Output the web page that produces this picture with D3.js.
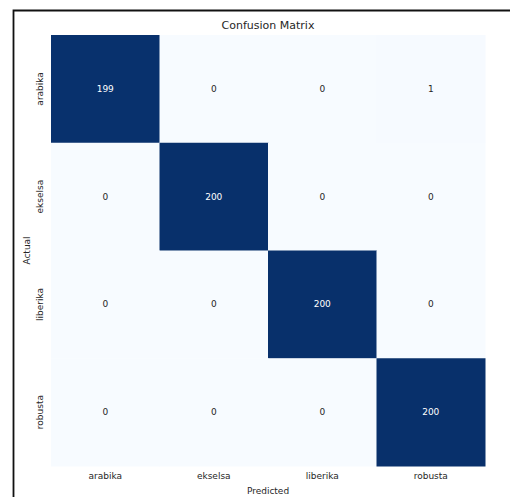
<!DOCTYPE html>
<html><head><meta charset="utf-8">
<script src="https://cdn.jsdelivr.net/npm/d3@7"></script>
<style>body{margin:0;background:#fff;} svg{display:block;font-family:"DejaVu Sans",sans-serif;}</style>
</head><body>
<svg id="c" width="510" height="497"></svg>
<script>
const classes = ["arabika","ekselsa","liberika","robusta"];
const matrix = [
  [199, 0, 0, 1],
  [0, 200, 0, 0],
  [0, 0, 200, 0],
  [0, 0, 0, 200]
];
const title = "Confusion Matrix";
const xLabel = "Predicted";
const yLabel = "Actual";

const svg = d3.select("#c");
// notebook frame
svg.append("path").attr("d","M13.5,510 L13.5,10.5 L512,10.5")
  .attr("fill","none").attr("stroke","#111").attr("stroke-width",1.8);

const L=51, T=35, R=485, B=466;
const x = d3.scaleBand().domain(classes).range([L,R]);
const y = d3.scaleBand().domain(classes).range([T,B]);
const color = d3.scaleSequential(d3.interpolateBlues).domain([0,200]);

const cells = [];
matrix.forEach((row,i)=>row.forEach((v,j)=>cells.push({a:classes[i],p:classes[j],v})));

svg.append("g").selectAll("rect").data(cells).join("rect")
  .attr("x",d=>x(d.p)).attr("y",d=>y(d.a))
  .attr("width",x.bandwidth()+0.5).attr("height",y.bandwidth()+0.5)
  .attr("fill",d=>color(d.v));

svg.append("g").selectAll("text").data(cells).join("text")
  .attr("x",d=>x(d.p)+x.bandwidth()/2).attr("y",d=>y(d.a)+y.bandwidth()/2)
  .attr("text-anchor","middle").attr("dominant-baseline","central")
  .attr("font-size",9).attr("fill",d=>d.v>100?"#ffffff":"#262626")
  .text(d=>d.v);

// axes
const xa = svg.append("g").attr("transform",`translate(0,${B})`)
  .call(d3.axisBottom(x).tickSize(0).tickPadding(7));
xa.select(".domain").remove();
xa.selectAll("text").attr("font-size",9).attr("fill","#262626").attr("font-family","DejaVu Sans");

const ya = svg.append("g").attr("transform",`translate(${L},0)`)
  .call(d3.axisLeft(y).tickSize(0).tickPadding(0));
ya.select(".domain").remove();
ya.selectAll(".tick text").attr("font-size",9).attr("fill","#262626").attr("font-family","DejaVu Sans")
  .attr("transform","rotate(-90)").attr("x",0).attr("y",-8).attr("dy",0)
  .attr("text-anchor","middle");

svg.append("text").attr("x",(L+R)/2).attr("y",29).attr("text-anchor","middle")
  .attr("font-size",11).attr("fill","#262626").text(title);
svg.append("text").attr("x",(L+R)/2).attr("y",494).attr("text-anchor","middle")
  .attr("font-size",9).attr("fill","#262626").text(xLabel);
svg.append("text").attr("transform",`translate(30,${(T+B)/2}) rotate(-90)`).attr("text-anchor","middle")
  .attr("font-size",9).attr("fill","#262626").text(yLabel);
</script>
</body></html>
